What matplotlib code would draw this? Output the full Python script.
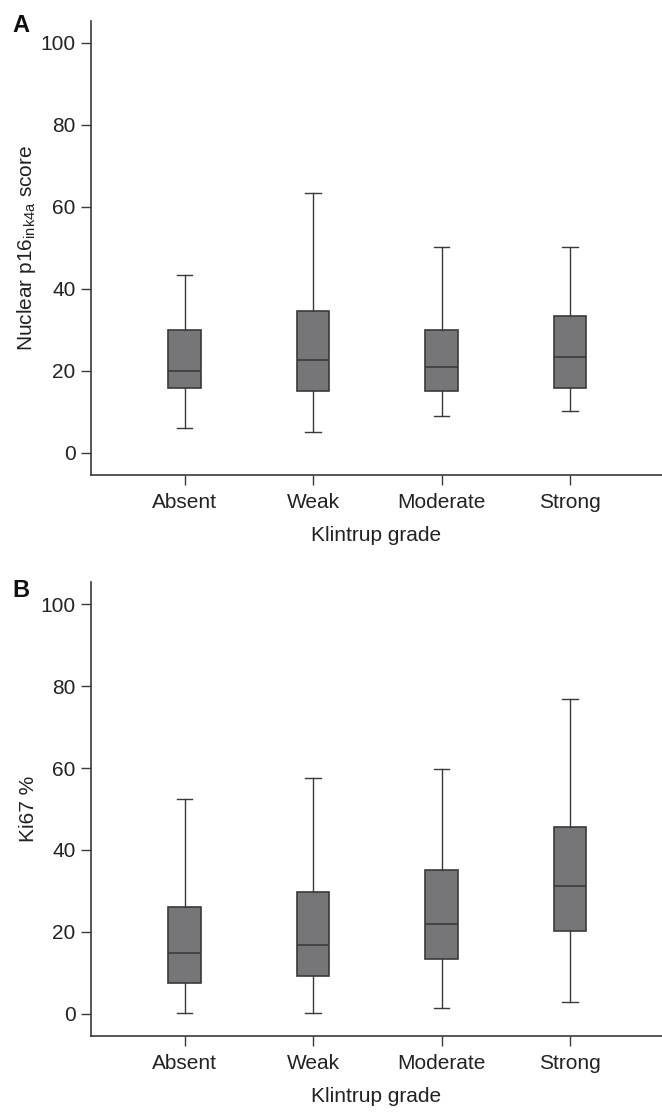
import numpy as np
import matplotlib
matplotlib.use("Agg")
import matplotlib.pyplot as plt

plt.rcParams['font.family'] = ['Liberation Sans', 'DejaVu Sans']
plt.rcParams['mathtext.fontset'] = 'custom'
plt.rcParams['mathtext.rm'] = 'Liberation Sans'
plt.rcParams['mathtext.it'] = 'Liberation Sans:italic'

grades = ['Absent', 'Weak', 'Moderate', 'Strong']

# panel A: nuclear p16 score
p16_whislo = [6.1, 5.0, 8.9, 10.1]
p16_q1 = [15.8, 15.0, 15.0, 15.8]
p16_med = [20.0, 22.6, 20.9, 23.4]
p16_q3 = [30.0, 34.5, 30.0, 33.4]
p16_whishi = [43.4, 63.4, 50.2, 50.2]

# panel B: Ki67 %
ki_whislo = [0.3, 0.3, 1.5, 2.8]
ki_q1 = [7.6, 9.2, 13.3, 20.3]
ki_med = [14.8, 16.9, 22.0, 31.1]
ki_q3 = [26.2, 29.8, 35.0, 45.5]
ki_whishi = [52.5, 57.5, 59.7, 76.9]

line_col = '#3a3a3a'
box_col = '#767678'
txt_col = '#222222'


def make_stats(lo, q1, med, q3, hi):
    return [dict(whislo=a, q1=b, med=c, q3=d, whishi=e, fliers=[])
            for a, b, c, d, e in zip(lo, q1, med, q3, hi)]


def draw(ax, stats, ylabel):
    ax.bxp(stats, positions=range(len(grades)), widths=0.25, patch_artist=True,
           showfliers=False, capwidths=0.12,
           boxprops=dict(facecolor=box_col, edgecolor=line_col, linewidth=1.2),
           medianprops=dict(color=line_col, linewidth=1.2),
           whiskerprops=dict(color=line_col, linewidth=1.0),
           capprops=dict(color=line_col, linewidth=1.0))
    ax.set_xlim(-0.728, 3.716)
    ax.set_ylim(-5.4, 105.3)
    ax.set_yticks([0, 20, 40, 60, 80, 100])
    ax.set_xticks(range(len(grades)))
    ax.set_xticklabels(grades)
    ax.spines['top'].set_visible(False)
    ax.spines['right'].set_visible(False)
    for s in ['left', 'bottom']:
        ax.spines[s].set_color(line_col)
        ax.spines[s].set_linewidth(1.2)
    ax.tick_params(axis='both', direction='out', length=7, width=1.0,
                   color=line_col, labelsize=15, labelcolor=txt_col)
    ax.tick_params(axis='x', pad=6)
    ax.tick_params(axis='y', pad=4)
    ax.set_xlabel('Klintrup grade', fontsize=15, color=txt_col, labelpad=10)
    ax.set_ylabel(ylabel, fontsize=15, color=txt_col, labelpad=2)


fig = plt.figure(figsize=(6.62, 11.12), dpi=100)
axA = fig.add_axes([0.1375, 0.573, 0.8625, 0.408])
axB = fig.add_axes([0.1375, 0.0683, 0.8625, 0.408])

draw(axA, make_stats(p16_whislo, p16_q1, p16_med, p16_q3, p16_whishi),
     r'Nuclear p16$_{\mathrm{ink4a}}$ score')
draw(axB, make_stats(ki_whislo, ki_q1, ki_med, ki_q3, ki_whishi), 'Ki67 %')

fig.text(0.019, 0.9775, 'A', fontsize=17, fontweight='bold', va='center',
         ha='left', color='#111111')
fig.text(0.019, 0.4694, 'B', fontsize=17, fontweight='bold', va='center',
         ha='left', color='#111111')

fig.savefig('out.png', dpi=100)
